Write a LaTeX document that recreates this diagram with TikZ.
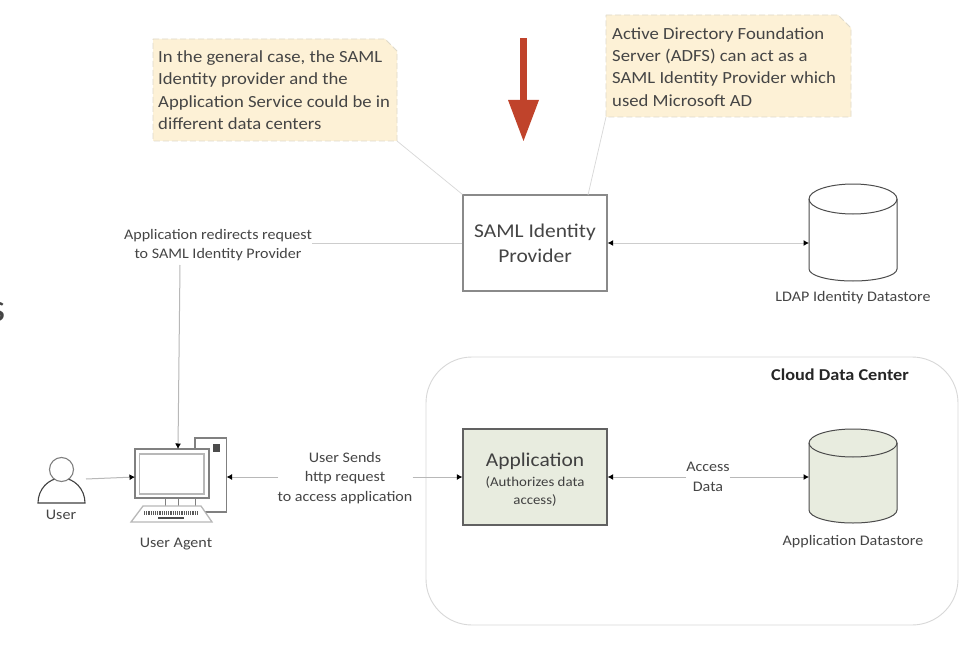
\documentclass[tikz,border=0pt]{standalone}
\usepackage{fontspec}
\setmainfont[FakeStretch=1.1]{Carlito}
\usetikzlibrary{arrows.meta}
\definecolor{notefill}{HTML}{FDF1D6}
\definecolor{notedash}{HTML}{DFDACA}
\definecolor{appfill}{HTML}{E8ECDF}
\definecolor{inkc}{HTML}{454545}
\definecolor{linec}{HTML}{B8B8B8}
\definecolor{boxc}{HTML}{8A8A8A}
\definecolor{redc}{HTML}{C0432B}
\tikzset{
  x=1pt,y=-1pt,
  every node/.style={text=inkc,inner sep=0pt},
  label13/.style={font=\fontsize{14.6}{19.5}\selectfont,align=center},
  notetxt/.style={font=\fontsize{17}{22.4}\selectfont,align=left,anchor=north west},
  notebox/.style={fill=notefill,draw=notedash,dashed,dash pattern=on 6pt off 3pt,line width=0.9pt,line join=round},
  leader/.style={draw=linec!55,line width=0.7pt},
  conn/.style={draw=linec!70,line width=1pt,{Latex[length=5.5pt,width=6pt,black]}-{Latex[length=5.5pt,width=6pt,black]}},
  connone/.style={draw=linec,line width=1pt,-{Latex[length=5.5pt,width=6pt,black]}},
  conndash/.style={draw=linec!70,line width=1pt},
  boxn/.style={draw=boxc,line width=1.2pt,minimum width=144pt,minimum height=96pt,align=center},
  pc/.style={draw=gray,line width=1.3pt},
}
\begin{document}
\begin{tikzpicture}
\useasboundingbox (0,0) rectangle (972,666);
\fill[white] (0,0) rectangle (972,666);
% partial glyph at left edge
\node[text=inkc,font=\fontsize{40}{40}\selectfont,anchor=east] (cut) at (6,312) {s};
% cloud data center
\draw[draw=linec!55,line width=0.9pt,rounded corners=46pt] (426,357) rectangle (958,625);
\node[font=\bfseries\fontsize{16.6}{20}\selectfont,text=black!85] (cdc) at (840,375) {Cloud Data Center};
% notes
\draw[notebox] (153,39) -- (385,39) -- (397,51) -- (397,141) -- (153,141) -- cycle;
\node[notetxt] (n1) at (158,50.5) {In the general case, the SAML\\Identity provider and the\\Application Service could be in\\different data centers};
\coordinate (n1e) at (397,141);
\draw[notebox] (606,15) -- (838,15) -- (851,28) -- (851,117) -- (606,117) -- cycle;
\node[notetxt] (n2) at (612,27) {Active Directory Foundation\\Server (ADFS) can act as a\\SAML Identity Provider which\\used Microsoft AD};
\coordinate (n2e) at (606,117);
% red arrow
\fill[redc] (520,38) rectangle (527,101);
\fill[redc] (508,100) -- (539,100) -- (523.5,141) -- cycle;
% boxes
\node[boxn,font=\fontsize{19.5}{25}\selectfont] (idp) at (535,243) {SAML Identity\\Provider};
\node[boxn,fill=appfill,draw=black!62,text=black!75,font=\fontsize{13.5}{17}\selectfont] (app) at (535,477) {\rule{0pt}{18pt}{\fontsize{19.5}{22}\selectfont Application}\\[3.5pt](Authorizes data\\[0.5pt]access)};
\draw[leader] (n1e) -- (idp.north west);
\draw[leader] (n2e) -- (588,195);
% LDAP cylinder
\coordinate (ldapw) at (809,243);
\draw[black!70,line width=1pt,fill=white] (809,199) arc[start angle=180,end angle=360,x radius=44,y radius=15] -- (897,269) arc[start angle=0,end angle=180,x radius=44,y radius=12] -- cycle;
\draw[black!70,line width=1pt] (809,199) arc[start angle=180,end angle=0,x radius=44,y radius=15];
\node[label13] (ldapl) at (853,298) {LDAP Identity Datastore};
% App cylinder
\coordinate (appdbw) at (809,477);
\draw[black!70,line width=1pt,fill=appfill] (809,443) arc[start angle=180,end angle=360,x radius=44,y radius=14] -- (897,510) arc[start angle=0,end angle=180,x radius=44,y radius=13] -- cycle;
\draw[black!70,line width=1pt] (809,443) arc[start angle=180,end angle=0,x radius=44,y radius=14];
\node[label13] (appdbl) at (853,541.5) {Application Datastore};
% user
\draw[black!75,line width=1.1pt,fill=white] (38,503) arc[start angle=180,end angle=360,x radius=23.5,y radius=25] -- cycle;
\draw[gray,line width=1.1pt,fill=white] (61.5,469.5) circle[radius=12];
\coordinate (userr) at (86,479);
\node[label13] (userl) at (61,515) {User};
% computer
\draw[pc,fill=white] (195,449) -- (195,438) -- (226.5,438) -- (226.5,512) -- (205,512);
\fill[black!70] (213,444) rectangle (220,452);
\draw[pc,fill=white] (135,449) rectangle (209,498);
\draw[linec,line width=1.6pt,fill=white] (139.5,454) rectangle (204,494);
\draw[gray,line width=1pt] (165,498)--(165,506) (178,498)--(178,506) (195,498)--(195,506);
\draw[linec,line width=1.3pt,fill=white] (131,522) -- (143,506) -- (201,506) -- (212,522) -- cycle;
\draw[black!65,line width=4pt,dash pattern=on 1.2pt off 1pt] (144,513) -- (199,513);
\draw[black!70,line width=2pt] (158,517.5) -- (184,517.5);
\node[label13] (ual) at (176,544.5) {User Agent};
\coordinate (pcn) at (178,449);
\coordinate (pcw) at (135,477);
\coordinate (pce) at (226.5,477);
% connectors
\node[label13] (l1) at (218,245) {Application redirects request\\to SAML Identity Provider};
\draw[conndash] (l1.east |- idp.west) -- (idp.west);
\draw[connone] (180,265) -- (pcn);
\draw[conn] (idp.east) -- (ldapw);
\draw[connone] (userr) -- (pcw);
\node[label13] (l2) at (345,478) {User Sends\\http request\\to access application};
\draw[connone] (278,477) -- (pce);
\draw[connone] (l2.east |- app.west) -- (app.west);
\node[label13] (l3) at (708,477) {Access\\Data};
\draw[connone] (l3.west) -- (app.east);
\draw[connone] (l3.east) -- (appdbw);
\end{tikzpicture}
\end{document}
